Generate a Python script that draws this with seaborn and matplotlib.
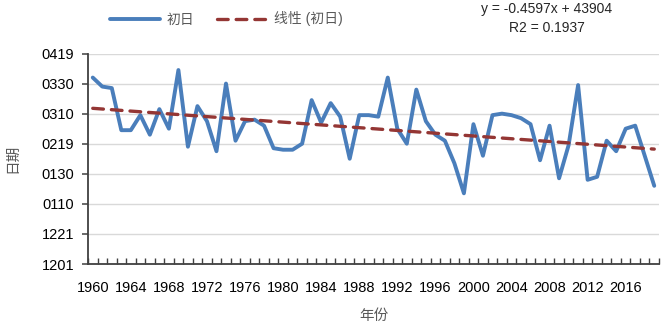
import numpy as np
import pandas as pd
import matplotlib
matplotlib.use("Agg")
import matplotlib.pyplot as plt
import seaborn as sns

# data: first day, as days after 1 Dec (0 = 1201, 20 = 1221, ... 140 = 0419)
years = list(range(1960, 2020))
first_day = [124, 118, 117, 89, 89, 99, 86, 103, 90, 129,
             78, 105, 95, 75, 120, 82, 95, 96, 92, 77,
             76, 76, 80, 109, 94, 107, 98, 70, 99, 99,
             98, 124, 90, 80, 116, 95, 86, 82, 67, 47,
             93, 72, 99, 100, 99, 97, 93, 69, 92, 57,
             79, 119, 56, 58, 82, 75, 90, 92, 72, 52]

# linear trend as printed on the chart (x = 1..60, y in Excel serial days)
slope = -0.4597
intercept = 43904
serial_dec1 = 43800  # Excel serial for 2019-12-01
r2 = 0.1937

y_ticks = [0, 20, 40, 60, 80, 100, 120, 140]
y_tick_labels = ["1201", "1221", "0110", "0130", "0219", "0310", "0330", "0419"]
x_tick_years = list(range(1960, 2020, 4))

df = pd.DataFrame({"year": years, "day": first_day})
df["idx"] = np.arange(1, len(df) + 1)
df["trend"] = slope * df["idx"] + intercept - serial_dec1

sns.set_style("white")
plt.rcParams["font.family"] = ["Liberation Sans", "Noto Sans CJK SC", "DejaVu Sans"]

fig = plt.figure(figsize=(6.61, 3.23), dpi=100)
ax = fig.add_axes([88 / 661, 1 - 264 / 323, 571 / 661, (264 - 53.5) / 323])

blue = "#4A7EBB"
red = "#943634"

sns.lineplot(data=df, x="year", y="day", ax=ax, color=blue, lw=2.8,
             label="初日", solid_capstyle="round", zorder=3)
sns.lineplot(data=df, x="year", y="trend", ax=ax, color=red, lw=2.4,
             label="线性 (初日)", zorder=4)
trend_line = ax.lines[-1]
trend_line.set_dashes([3.2, 2.4])
trend_line.set_dash_capstyle("round")

ax.set_xlim(1959.5, 2019.5)
ax.set_ylim(0, 140)
ax.set_yticks(y_ticks)
ax.set_yticklabels(y_tick_labels)
ax.set_xticks(x_tick_years)
ax.set_xticklabels([str(y) for y in x_tick_years])
ax.set_xticks(np.arange(1959.5, 2020.5, 1), minor=True)

ax.grid(axis="y", color="#D9D9D9", lw=1.0, zorder=0)
ax.set_axisbelow(True)
for side in ["top", "right"]:
    ax.spines[side].set_visible(False)
for side in ["left", "bottom"]:
    ax.spines[side].set_color("#404040")
    ax.spines[side].set_linewidth(1.3)

ax.tick_params(axis="y", direction="out", length=4, width=1.1, color="#404040",
               labelsize=10.5, labelcolor="#000000", pad=6, left=True)
ax.tick_params(axis="x", which="major", length=0, labelsize=10.5,
               labelcolor="#000000", pad=12)
ax.tick_params(axis="x", which="minor", direction="in", length=4, width=1.0,
               color="#404040", bottom=True)

ax.set_xlabel("年份", color="#595959", fontsize=10.5, labelpad=10)
ax.set_ylabel("日期", color="#595959", fontsize=10.5, labelpad=16)

handles, labels = ax.get_legend_handles_labels()
ax.get_legend().remove()
leg = fig.legend(handles, labels, loc="center", bbox_to_anchor=(226 / 661, 1 - 19 / 323),
                 ncol=2, frameon=False, fontsize=10, handlelength=3.6,
                 columnspacing=1.6, handletextpad=0.5)
for t in leg.get_texts():
    t.set_color("#595959")

fig.text(547 / 661, 1 - 9 / 323, "y = -0.4597x + 43904", ha="center", va="center",
         fontsize=10, color="#262626")
fig.text(547 / 661, 1 - 28 / 323, "R2 = %.4f" % r2, ha="center", va="center",
         fontsize=10, color="#262626")

fig.savefig("out.png", dpi=100)
